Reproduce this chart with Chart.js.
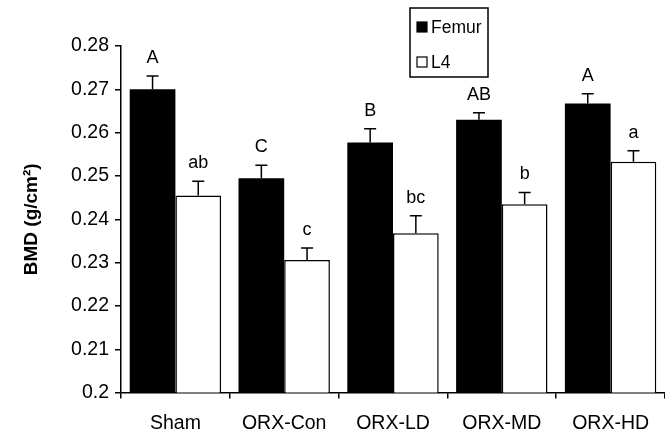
<html>
<head>
<script src="https://cdn.jsdelivr.net/npm/chart.js@4.4.1/dist/chart.umd.min.js"></script>
<style>
  body { margin: 0; background: #fff; }
  #wrap { width: 665px; height: 435px; }
</style>
</head>
<body>
<div id="wrap"><canvas id="myChart"></canvas></div>
<script>
  // values
  var groups = ['Sham', 'ORX-Con', 'ORX-LD', 'ORX-MD', 'ORX-HD'];
  var femur = [0.2700, 0.2495, 0.2577, 0.2630, 0.2667];
  var femurErr = [0.0031, 0.0030, 0.0032, 0.0016, 0.0023];
  var femurLetters = ['A', 'C', 'B', 'AB', 'A'];
  var l4 = [0.2455, 0.2306, 0.2368, 0.2435, 0.2533];
  var l4Err = [0.0033, 0.0028, 0.0040, 0.0027, 0.0025];
  var l4Letters = ['ab', 'c', 'bc', 'b', 'a'];
  var yTicks = [0.2, 0.21, 0.22, 0.23, 0.24, 0.25, 0.26, 0.27, 0.28];

  var FONT = 'Liberation Sans, Arial, Helvetica, sans-serif';

  // error bar (up only) + significance letters
  var errorBars = {
    id: 'errorBars',
    afterDatasetsDraw: function(chart) {
      var ctx = chart.ctx;
      var y = chart.scales.y;
      ctx.save();
      ctx.strokeStyle = '#000';
      ctx.fillStyle = '#000';
      ctx.lineWidth = 1.5;
      ctx.font = '18px ' + FONT;
      ctx.textAlign = 'center';
      ctx.textBaseline = 'bottom';
      chart.data.datasets.forEach(function(ds, i) {
        var meta = chart.getDatasetMeta(i);
        meta.data.forEach(function(bar, j) {
          var top = y.getPixelForValue(ds.data[j] + ds.err[j]);
          ctx.beginPath();
          ctx.moveTo(bar.x, bar.y);
          ctx.lineTo(bar.x, top);
          ctx.moveTo(bar.x - 6, top);
          ctx.lineTo(bar.x + 6, top);
          ctx.stroke();
          ctx.fillText(ds.letters[j], bar.x, top - 9);
        });
      });
      ctx.restore();
    }
  };

  // boxed legend like the figure
  var boxLegend = {
    id: 'boxLegend',
    afterDraw: function(chart) {
      var ctx = chart.ctx;
      var x0 = 410, y0 = 8, w = 78, h = 69;
      ctx.save();
      ctx.strokeStyle = '#000';
      ctx.lineWidth = 1.5;
      ctx.strokeRect(x0, y0, w, h);
      ctx.font = '17.5px ' + FONT;
      ctx.textBaseline = 'middle';
      ctx.textAlign = 'left';
      chart.data.datasets.forEach(function(ds, i) {
        var cy = y0 + 19 + i * 35;
        ctx.fillStyle = ds.backgroundColor;
        ctx.fillRect(x0 + 7, cy - 5, 10, 10);
        ctx.lineWidth = 1.2;
        ctx.strokeRect(x0 + 7, cy - 5, 10, 10);
        ctx.fillStyle = '#000';
        ctx.fillText(ds.label, x0 + 21, cy + 1);
      });
      ctx.restore();
    }
  };

  var ctx = document.getElementById('myChart').getContext('2d');
  var myChart = new Chart(ctx, {
    type: 'bar',
    data: {
      labels: groups,
      datasets: [{
        label: 'Femur',
        data: femur,
        err: femurErr,
        letters: femurLetters,
        backgroundColor: '#000',
        borderColor: '#000',
        borderWidth: 0,
        barPercentage: 1.0,
        categoryPercentage: 0.84
      }, {
        label: 'L4',
        data: l4,
        err: l4Err,
        letters: l4Letters,
        backgroundColor: '#fff',
        borderColor: '#000',
        borderWidth: 1.5,
        barPercentage: 1.0,
        categoryPercentage: 0.84
      }]
    },
    plugins: [errorBars, boxLegend],
    options: {
      responsive: true,
      maintainAspectRatio: false,
      animation: false,
      layout: { padding: { top: 46, right: -14, bottom: -13, left: 0 } },
      plugins: {
        legend: { display: false },
        tooltip: { enabled: false }
      },
      scales: {
        x: {
          grid: { drawOnChartArea: false, tickLength: 6, color: '#000', lineWidth: 1.5 },
          border: { color: '#000', width: 1.5 },
          ticks: { color: '#000', padding: 13, font: { family: FONT, size: 19.5 } }
        },
        y: {
          min: 0.2,
          max: 0.28,
          afterFit: function(scale) { scale.width = 121; },
          afterBuildTicks: function(scale) {
            scale.ticks = yTicks.map(function(v) { return { value: v }; });
          },
          grid: { drawOnChartArea: false, tickLength: 6, color: '#000', lineWidth: 1.5 },
          border: { color: '#000', width: 1.5 },
          ticks: {
            color: '#000',
            padding: 6,
            font: { family: FONT, size: 19.5 },
            callback: function(v) { return String(+v.toFixed(2)); }
          },
          title: {
            display: true,
            text: 'BMD (g/cm\u00B2)',
            color: '#000',
            padding: { top: 20, bottom: 0 },
            font: { family: FONT, size: 19, weight: 'bold' }
          }
        }
      }
    }
  });
</script>
</body>
</html>
